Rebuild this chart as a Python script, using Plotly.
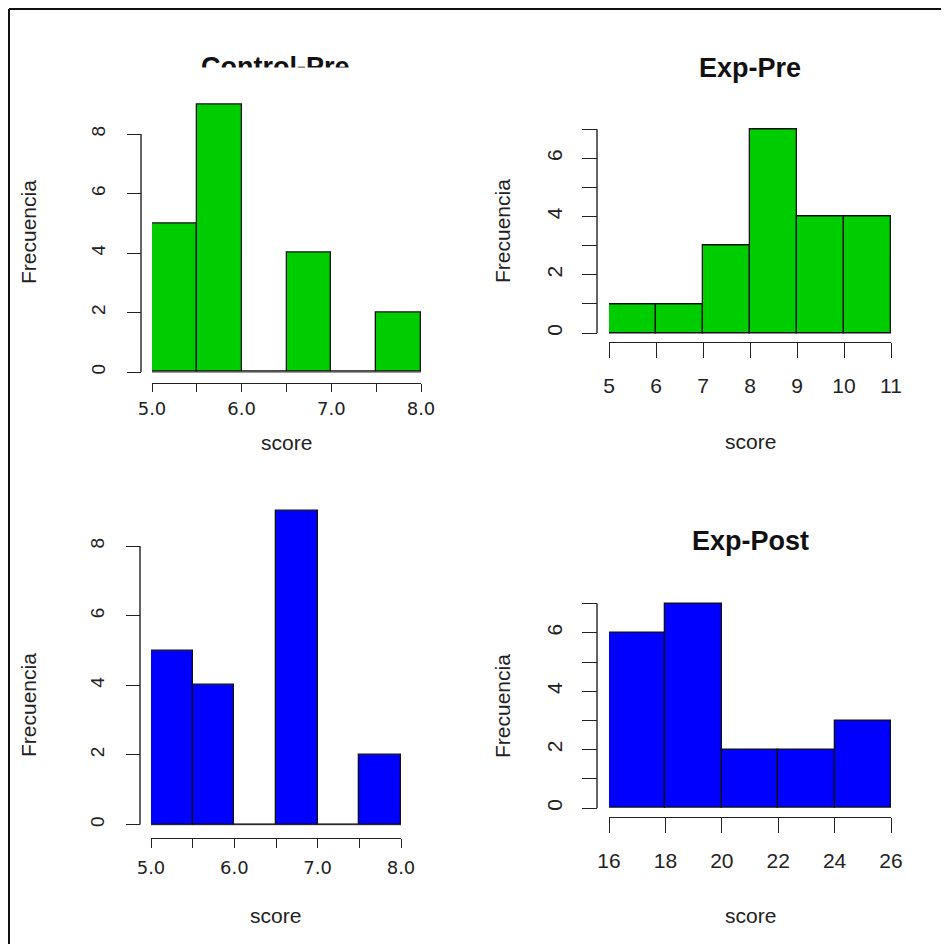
import plotly.graph_objects as go

# ---------------- data ----------------
titles = ["Control-Pre", "Exp-Pre", "", "Exp-Post"]

breaks_cpre = [5.0, 5.5, 6.0, 6.5, 7.0, 7.5, 8.0]
counts_cpre = [5, 9, 0, 4, 0, 2]

breaks_epre = [5, 6, 7, 8, 9, 10, 11]
counts_epre = [1, 1, 3, 7, 4, 4]

breaks_cpost = [5.0, 5.5, 6.0, 6.5, 7.0, 7.5, 8.0]
counts_cpost = [5, 4, 0, 9, 0, 2]

breaks_epost = [16, 18, 20, 22, 24, 26]
counts_epost = [6, 7, 2, 2, 3]

xtick_vals_left = [5.0, 5.5, 6.0, 6.5, 7.0, 7.5, 8.0]
xtick_text_left = ["5.0", "", "6.0", "", "7.0", "", "8.0"]
xtick_vals_epre = [5, 6, 7, 8, 9, 10, 11]
xtick_text_epre = ["5", "6", "7", "8", "9", "10", "11"]
xtick_vals_epost = [16, 18, 20, 22, 24, 26]
xtick_text_epost = ["16", "18", "20", "22", "24", "26"]

ytick_vals_left = [0, 2, 4, 6, 8]
ytick_text_left = ["0", "2", "4", "6", "8"]
ytick_vals_right = [0, 1, 2, 3, 4, 5, 6, 7]
ytick_text_right = ["0", "", "2", "", "4", "", "6", ""]

x_label = "score"
y_label = "Frecuencia"

GREEN = "#00CD00"
BLUE = "#0000FF"

# ---------------- layout geometry (pixels of the 949x952 page) ----------------
OFF = 8                      # page body margin
W, H = 949 - OFF, 952 - 2 * OFF
def fx(p):
    return (p - OFF) / W
def fy(p):
    return 1 - (p - OFF) / H

FONT = "Liberation Sans, Arial, sans-serif"
FONT_L = "DejaVu Sans, Verdana, sans-serif"
AX = "#222222"

panels = [
    dict(breaks=breaks_cpre, counts=counts_cpre, color=GREEN, title=titles[0],
         xv=xtick_vals_left, xt=xtick_text_left, yv=ytick_vals_left, yt=ytick_text_left,
         x0=152, x1=421, y0=372, unit=29.75, ytop=10.2, yline=141, xline=383,
         xtl=8, ytl=14, xfont=dict(family=FONT_L, size=18), yfont=dict(family=FONT, size=19),
         xstand=1, ystand=14, zl=True,
         title_xy=(275, 67), xlab_xy=(286, 442), ylab_xy=(28, 232)),
    dict(breaks=breaks_epre, counts=counts_epre, color=GREEN, title=titles[1],
         xv=xtick_vals_epre, xt=xtick_text_epre, yv=ytick_vals_right, yt=ytick_text_right,
         x0=609, x1=891, y0=333, unit=29.1, ytop=7.1, yline=597, xline=342,
         xtl=15, ytl=15, xfont=dict(family=FONT, size=21), yfont=dict(family=FONT, size=21),
         xstand=10, ystand=12, zl=False,
         title_xy=(750, 68), xlab_xy=(750, 441), ylab_xy=(502, 231)),
    dict(breaks=breaks_cpost, counts=counts_cpost, color=BLUE, title=titles[2],
         xv=xtick_vals_left, xt=xtick_text_left, yv=ytick_vals_left, yt=ytick_text_left,
         x0=151, x1=401, y0=824.5, unit=34.8, ytop=9.3, yline=140, xline=838,
         xtl=9, ytl=14, xfont=dict(family=FONT_L, size=18), yfont=dict(family=FONT, size=19),
         xstand=4, ystand=14, zl=True,
         title_xy=None, xlab_xy=(275, 915), ylab_xy=(28, 705)),
    dict(breaks=breaks_epost, counts=counts_epost, color=BLUE, title=titles[3],
         xv=xtick_vals_epost, xt=xtick_text_epost, yv=ytick_vals_right, yt=ytick_text_right,
         x0=609, x1=891, y0=808, unit=29.2, ytop=7.1, yline=597, xline=817,
         xtl=15, ytl=15, xfont=dict(family=FONT, size=21), yfont=dict(family=FONT, size=21),
         xstand=10, ystand=12, zl=False,
         title_xy=(750, 541), xlab_xy=(750, 915), ylab_xy=(502, 706)),
]

fig = go.Figure()
annotations = []
shapes = []
layout_axes = {}
LO = 0.1

for i, p in enumerate(panels, start=1):
    sfx = "" if i == 1 else str(i)
    b = p["breaks"]
    mids = [(b[k] + b[k + 1]) / 2 for k in range(len(b) - 1)]
    widths = [b[k + 1] - b[k] for k in range(len(b) - 1)]
    fig.add_trace(go.Bar(
        x=mids, y=p["counts"], width=widths,
        marker=dict(color=p["color"], line=dict(color="#111111", width=1.3)),
        xaxis="x" + sfx, yaxis="y" + sfx, showlegend=False, hoverinfo="skip",
    ))
    layout_axes["xaxis" + sfx] = dict(
        domain=[fx(p["x0"]), fx(p["x1"])], range=[b[0], b[-1]],
        anchor="free", position=fy(p["xline"]), automargin=False,
        showline=True, linecolor=AX, linewidth=1.4,
        ticks="outside", ticklen=p["xtl"], tickwidth=1.4, tickcolor=AX,
        tickmode="array", tickvals=p["xv"], ticktext=p["xt"],
        tickfont=dict(color="#222222", **p["xfont"]),
        ticklabelstandoff=p["xstand"],
        showgrid=False, zeroline=False, fixedrange=True,
    )
    layout_axes["yaxis" + sfx] = dict(
        domain=[fy(p["y0"] + LO * p["unit"]), fy(p["y0"] - p["ytop"] * p["unit"])],
        range=[-LO, p["ytop"]],
        anchor="free", position=fx(p["yline"]), automargin=False,
        showline=False,
        ticks="outside", ticklen=p["ytl"], tickwidth=1.4, tickcolor=AX,
        tickmode="array", tickvals=p["yv"], ticktext=p["yt"], tickangle=-90,
        tickfont=dict(color="#222222", **p["yfont"]),
        ticklabelstandoff=p["ystand"],
        showgrid=False, zeroline=False, fixedrange=True,
    )
    # R-style axis line spanning the first to the last tick
    shapes.append(dict(type="line", xref="paper", yref="y" + sfx,
                       x0=fx(p["yline"]), x1=fx(p["yline"]),
                       y0=p["yv"][0], y1=p["yv"][-1],
                       line=dict(color=AX, width=1.4)))
    if p["zl"]:
        # outline of empty bins (zero-height rectangles) along the baseline
        shapes.append(dict(type="line", xref="x" + sfx, yref="y" + sfx, layer="below",
                           x0=b[0], x1=b[-1], y0=0, y1=0,
                           line=dict(color="#7a7a7a", width=1.3)))
    if p["title_xy"]:
        tx, ty = p["title_xy"]
        annotations.append(dict(text="<b>%s</b>" % p["title"], x=fx(tx), y=fy(ty),
                                xref="paper", yref="paper", xanchor="center", yanchor="middle",
                                showarrow=False, font=dict(family=FONT, size=27, color="#111111")))
    lx, ly = p["xlab_xy"]
    annotations.append(dict(text=x_label, x=fx(lx), y=fy(ly), xref="paper", yref="paper",
                            xanchor="center", yanchor="middle", showarrow=False,
                            font=dict(family=FONT, size=21, color="#222222")))
    yx, yy = p["ylab_xy"]
    annotations.append(dict(text=y_label, x=fx(yx), y=fy(yy), xref="paper", yref="paper",
                            xanchor="center", yanchor="middle", showarrow=False, textangle=-90,
                            font=dict(family=FONT, size=21, color="#222222")))

# the first title is clipped at its lower part in the reference
annotations.append(dict(text=" ", x=fx(275), y=fy(84), xref="paper", yref="paper",
                        xanchor="center", yanchor="middle", showarrow=False,
                        width=220, height=30, bgcolor="white", font=dict(size=10)))

# outer frame (left and top edges visible)
shapes.append(dict(type="line", xref="paper", yref="paper", x0=fx(9), x1=fx(9), y0=0, y1=fy(9),
                   line=dict(color="#111111", width=2)))
shapes.append(dict(type="line", xref="paper", yref="paper", x0=fx(9), x1=1, y0=fy(9), y1=fy(9),
                   line=dict(color="#111111", width=2)))

fig.update_layout(
    width=W, height=H, margin=dict(l=0, r=0, t=0, b=0, pad=0, autoexpand=False),
    paper_bgcolor="white", plot_bgcolor="white",
    bargap=0, annotations=annotations, shapes=shapes,
    **layout_axes,
)

fig.write_html("out.html")
